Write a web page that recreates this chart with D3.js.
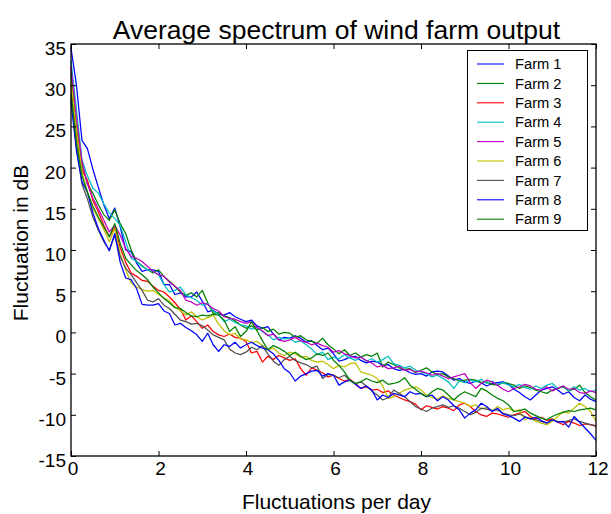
<!DOCTYPE html>
<html>
<head>
<meta charset="utf-8">
<script src="https://cdn.jsdelivr.net/npm/d3@7"></script>
<style>
  html, body { margin: 0; padding: 0; background: #fff; }
  svg { display: block; font-family: "Liberation Sans", Arial, Helvetica, sans-serif; }
</style>
</head>
<body>
<script>
// Average spectrum (dB) of each farm's output, sampled every 1/8 fluctuation per day, 0..12
const samplesPerDay = 8;

const farm1 = [
  34.5, 30.0, 23.3, 22.3, 19.8, 17.6, 15.5, 13.8,
  15.1, 12.8, 10.0, 9.8, 8.4, 7.4, 7.6, 7.6,
  7.4, 5.8, 5.8, 4.6, 4.8, 4.3, 4.3, 4.9,
  3.8, 2.5, 2.7, 2.2, 2.1, 2.4, 1.9, 1.6,
  1.3, 1.5, 0.8, 0.5, 0.7, -0.2, -0.9, -0.6,
  -0.7, -0.4, -0.7, -1.2, -1.0, -1.6, -2.1, -1.9,
  -2.6, -3.5, -3.3, -3.0, -2.9, -3.4, -3.7, -3.5,
  -3.6, -4.0, -3.9, -4.4, -4.6, -4.5, -4.9, -5.1,
  -5.0, -5.3, -4.8, -4.7, -4.8, -5.3, -5.8, -5.6,
  -6.0, -6.2, -5.9, -6.1, -6.5, -6.2, -6.1, -6.0,
  -6.3, -6.9, -7.3, -7.8, -8.2, -7.6, -7.0, -6.8,
  -6.6, -7.0, -7.5, -7.2, -7.9, -8.3, -7.6, -8.1,
  -8.4
];
const farm2 = [
  31.5, 25.0, 20.5, 18.0, 16.9, 15.5, 14.3, 13.6,
  14.9, 13.2, 12.0, 10.0, 8.6, 8.1, 7.6, 7.2,
  7.6, 6.8, 6.2, 5.6, 4.9, 4.5, 4.8, 4.3,
  5.1, 3.6, 2.3, 2.4, 2.0, 1.8, 1.4, 0.9,
  0.5, 0.8, 0.3, 0.6, 0.1, 0.4, -0.2, 0.0,
  -0.1, -0.6, -0.4, -0.9, -1.1, -1.3, -0.7, -1.5,
  -2.0, -2.6, -2.1, -2.8, -2.5, -3.0, -2.7, -2.9,
  -2.5, -4.2, -3.6, -3.9, -4.3, -4.5, -4.4, -4.9,
  -4.6, -4.3, -4.8, -5.1, -5.0, -5.4, -5.6, -5.9,
  -5.8, -5.7, -5.8, -6.1, -6.0, -6.3, -6.4, -6.1,
  -6.2, -6.4, -6.8, -6.5, -6.7, -7.0, -7.2, -7.4,
  -7.0, -6.8, -6.6, -7.1, -6.9, -6.4, -7.3, -7.8,
  -8.2
];
const farm3 = [
  30.0, 24.0, 19.7, 18.5, 16.0, 14.6, 13.0, 11.6,
  12.8, 10.3, 8.5, 7.2, 6.8, 6.3, 6.2, 5.6,
  5.1, 4.9, 4.3, 3.6, 2.8, 1.5, 2.0, 1.3,
  0.5, 0.9, 0.1, -0.3, -0.5, -0.2, -0.6, -0.7,
  -1.1, -2.5, -2.3, -3.6, -2.9, -3.3, -2.8, -3.1,
  -3.4, -3.2, -4.4, -5.2, -4.3, -4.6, -4.9, -5.4,
  -5.2, -5.6, -5.9, -5.7, -6.2, -6.8, -6.6, -7.0,
  -6.9, -7.3, -7.1, -7.6, -7.9, -8.2, -8.4, -8.7,
  -9.4, -8.9, -9.1, -9.3, -9.0, -9.2, -9.5, -8.8,
  -8.6, -9.0, -9.6, -10.0, -10.2, -9.8, -9.9, -10.1,
  -10.3, -10.0, -9.8, -9.6, -10.2, -10.5, -10.3, -10.7,
  -10.5, -10.9, -11.2, -10.8, -11.0, -11.3, -11.1, -11.2,
  -11.4
];
const farm4 = [
  33.0, 27.0, 21.0, 19.0, 17.5, 16.9, 15.6, 14.5,
  13.8, 13.0, 11.0, 9.0, 8.6, 8.0, 7.6, 7.4,
  7.0, 5.8, 4.9, 5.1, 5.5, 4.6, 4.2, 3.9,
  3.3, 3.5, 2.6, 2.2, 1.3, 1.6, 1.2, 0.9,
  0.8, 0.4, 0.6, 0.1, -0.3, -0.9, -0.6, -0.8,
  -0.7, -1.2, -1.0, -1.5, -2.0, -2.7, -2.4, -3.3,
  -3.0, -3.2, -2.7, -3.1, -3.4, -3.0, -3.5, -3.2,
  -3.6, -3.3, -2.9, -3.8, -4.0, -4.3, -4.1, -4.6,
  -4.8, -5.0, -5.4, -5.2, -5.6, -6.0, -6.8, -5.9,
  -6.1, -5.8, -6.0, -5.7, -6.2, -5.9, -6.3, -6.1,
  -6.4, -6.6, -6.3, -6.7, -6.9, -6.5, -6.8, -6.4,
  -6.2, -6.8, -6.5, -7.1, -6.6, -7.0, -6.8, -7.2,
  -7.0
];
const farm5 = [
  32.3, 26.0, 20.8, 18.0, 16.3, 15.0, 13.6, 12.2,
  13.0, 11.8, 10.2, 9.2, 9.0, 8.6, 8.0, 7.4,
  7.0, 6.8, 6.1, 5.6, 5.1, 3.9, 3.7, 3.3,
  3.6, 3.4, 2.9, 2.6, 1.9, 1.7, 1.6, 1.3,
  1.1, 1.3, 0.6, 0.2, -0.4, -0.2, -0.9, -1.1,
  -0.9, -0.6, -1.0, -1.2, -1.5, -1.3, -1.6, -1.8,
  -2.4, -2.2, -2.6, -2.8, -3.1, -3.0, -3.4, -3.7,
  -4.2, -4.0, -4.4, -4.3, -4.1, -4.6, -4.5, -4.8,
  -4.7, -4.9, -5.2, -5.0, -5.3, -5.6, -5.4, -5.2,
  -5.0, -6.1, -6.8, -6.2, -5.8, -6.0, -6.4, -6.9,
  -7.2, -6.8, -6.6, -6.3, -6.5, -6.9, -7.0, -6.6,
  -7.1, -6.8, -6.5, -6.9, -6.8, -7.3, -7.4, -7.1,
  -7.3
];
const farm6 = [
  30.5, 24.5, 19.5, 17.0, 15.0, 13.8, 12.5, 11.0,
  12.6, 9.5, 7.6, 6.0, 5.5, 5.2, 5.0, 5.1,
  4.6, 4.2, 3.8, 3.1, 2.6, 2.1, 2.5, 1.9,
  1.5, 1.8, 2.1, 1.0, 0.2, -0.3, -0.1, -0.8,
  -0.9, -1.2, -1.1, -1.6, -2.1, -1.9, -2.5, -2.8,
  -2.4, -2.6, -3.0, -2.9, -3.4, -3.6, -3.5, -3.9,
  -4.4, -4.0, -4.2, -3.8, -3.7, -4.8, -5.0, -5.2,
  -5.6, -6.5, -8.0, -7.8, -7.4, -7.0, -6.8, -6.6,
  -7.0, -7.6, -7.9, -8.1, -7.7, -8.0, -8.2, -8.4,
  -8.6, -9.0, -8.8, -9.3, -9.1, -9.5, -9.0, -9.4,
  -9.2, -9.6, -9.4, -10.6, -10.3, -10.8, -11.0, -11.2,
  -10.8, -10.2, -9.6, -9.8, -9.2, -8.6, -9.0, -9.6,
  -10.8
];
const farm7 = [
  28.5, 22.5, 18.0, 16.2, 14.0, 12.4, 11.0, 10.0,
  11.8, 9.2, 7.8, 7.0, 6.0, 5.1, 3.9, 3.7,
  4.1, 3.3, 2.9, 2.2, 1.5, 1.3, 1.0, 1.1,
  0.8, 0.3, -0.3, -0.6, -0.9, -2.0, -2.5, -2.7,
  -2.4, -1.8, -2.1, -1.6, -2.6, -3.5, -4.0, -3.3,
  -2.9, -3.4, -3.7, -3.9, -4.3, -4.1, -5.6, -5.1,
  -5.2, -5.5, -5.2, -5.8, -6.2, -6.0, -6.5, -7.1,
  -7.6, -8.2, -7.9, -7.0, -7.4, -7.8, -8.4, -9.0,
  -9.3, -9.6, -9.2, -9.0, -8.8, -9.1, -8.9, -9.2,
  -9.6, -10.0, -9.7, -9.2, -9.3, -9.5, -9.4, -9.8,
  -10.0, -10.1, -9.9, -10.2, -10.5, -10.6, -10.8, -11.0,
  -10.6, -10.8, -10.9, -10.7, -10.5, -10.8, -11.0, -11.2,
  -11.3
];
const farm8 = [
  28.0, 22.0, 18.3, 17.0, 14.5, 12.6, 11.2, 9.9,
  12.0, 8.5, 6.6, 6.4, 5.3, 3.4, 3.3, 3.3,
  3.5, 2.6, 2.3, 0.9, 1.1, 0.6, 0.2, -0.3,
  -1.1, -0.1, -1.5, -2.3, -1.5, -1.7, -1.2, -1.9,
  -1.5, -1.2, -1.6, -1.9, -2.1, -2.6, -3.4, -4.4,
  -4.9, -5.9, -5.3, -5.0, -4.7, -4.6, -5.3, -5.0,
  -5.2, -6.4, -6.0, -5.8, -6.3, -6.8, -6.5, -7.0,
  -8.2, -7.6, -7.9, -7.4, -7.6, -7.8, -7.2, -7.5,
  -7.4, -7.8, -7.6, -8.3, -7.8, -8.2, -8.9, -9.4,
  -10.4, -9.8, -9.4, -8.6, -9.0, -9.6, -9.2, -9.9,
  -10.1, -10.4, -10.8, -10.3, -10.5, -10.3, -10.7, -11.0,
  -10.6, -10.9, -10.8, -11.5, -10.2, -10.9, -11.6, -12.3,
  -13.1
];
const farm9 = [
  29.0, 23.0, 19.0, 17.0, 15.3, 14.0, 12.8, 11.6,
  13.2, 10.8, 9.0, 8.2, 7.5, 7.0, 6.4, 5.5,
  4.8, 4.1, 3.6, 3.0, 2.9, 2.4, 2.0, 1.9,
  2.1, 2.0, 2.2, 2.1, 1.5, 0.1, 0.7, -0.5,
  0.1, 1.3, 0.2, -1.0, -2.1, -1.6, -1.9, -2.3,
  -2.8, -2.4, -2.9, -3.3, -3.1, -2.6, -2.8, -2.5,
  -3.4, -4.0, -4.8, -5.8, -6.2, -6.0, -5.6, -5.9,
  -6.1, -5.8, -6.3, -6.2, -6.0, -5.5, -6.4, -6.9,
  -7.4, -7.8, -7.2, -6.8, -7.0, -7.6, -8.2, -7.6,
  -7.2, -7.5, -7.8, -6.8, -7.1, -7.6, -8.0, -8.3,
  -8.8, -9.6, -9.5, -9.3, -9.8, -10.1, -10.4, -10.6,
  -10.2, -9.9, -9.7, -9.5, -9.6, -9.4, -9.3, -9.2,
  -9.4
];

const farmNames = ["Farm 1", "Farm 2", "Farm 3", "Farm 4", "Farm 5", "Farm 6", "Farm 7", "Farm 8", "Farm 9"];
const farmSeries = [farm1, farm2, farm3, farm4, farm5, farm6, farm7, farm8, farm9];
const farmColors = ["#0000ff", "#008000", "#ff0000", "#00bfbf", "#bf00bf", "#bfbf00", "#505050", "#0000ff", "#008000"];

const xTicks = [0, 2, 4, 6, 8, 10, 12];
const yTicks = [-15, -10, -5, 0, 5, 10, 15, 20, 25, 30, 35];

const W = 611, H = 514;
const box = { left: 71, right: 596, top: 44, bottom: 456 };

const svg = d3.select("body").append("svg").attr("width", W).attr("height", H);

const x = d3.scaleLinear().domain([0, 12]).range([box.left, box.right]);
const y = d3.scaleLinear().domain([-15, 35]).range([box.bottom, box.top]);

// Spectrum curves
const line = d3.line()
  .x((d, i) => x(i / samplesPerDay))
  .y(d => y(d));

svg.append("g")
  .selectAll("path")
  .data(farmSeries)
  .join("path")
  .attr("d", line)
  .attr("fill", "none")
  .attr("stroke", (d, i) => farmColors[i])
  .attr("stroke-width", 1.25)
  .attr("stroke-linejoin", "round");

// Axes: inward ticks on all four sides, labels on bottom and left (plain hyphen minus)
const tickLen = 5;
const fontTick = "19px";
const plain = d => String(d);

const gx = svg.append("g").attr("transform", `translate(0,${box.bottom})`)
  .call(d3.axisBottom(x).tickValues(xTicks).tickFormat(plain).tickSizeInner(-tickLen).tickSizeOuter(0).tickPadding(6));
gx.selectAll("text").attr("font-size", fontTick).attr("fill", "#000").attr("dx", "1.5");

const gxt = svg.append("g").attr("transform", `translate(0,${box.top})`)
  .call(d3.axisTop(x).tickValues(xTicks).tickSizeInner(-tickLen).tickSizeOuter(0).tickFormat(""));

const gy = svg.append("g").attr("transform", `translate(${box.left},0)`)
  .call(d3.axisLeft(y).tickValues(yTicks).tickFormat(plain).tickSizeInner(-tickLen).tickSizeOuter(0).tickPadding(5));
gy.selectAll("text").attr("font-size", fontTick).attr("fill", "#000").attr("dy", "0.55em");

const gyr = svg.append("g").attr("transform", `translate(${box.right},0)`)
  .call(d3.axisRight(y).tickValues(yTicks).tickSizeInner(-tickLen).tickSizeOuter(0).tickFormat(""));

[gx, gxt, gy, gyr].forEach(g => {
  g.select(".domain").remove();
  g.selectAll(".tick line").attr("stroke", "#000").attr("stroke-width", 1);
});

svg.append("rect")
  .attr("x", box.left).attr("y", box.top)
  .attr("width", box.right - box.left).attr("height", box.bottom - box.top)
  .attr("fill", "none").attr("stroke", "#000").attr("stroke-width", 1.3);

// Title and axis labels
svg.append("text")
  .attr("x", (box.left + box.right) / 2 + 3).attr("y", 39)
  .attr("text-anchor", "middle").attr("font-size", "26.5px")
  .text("Average spectrum of wind farm output");

svg.append("text")
  .attr("x", (box.left + box.right) / 2 + 3).attr("y", 509)
  .attr("text-anchor", "middle").attr("font-size", "21px")
  .text("Fluctuations per day");

svg.append("text")
  .attr("transform", "translate(28,243) rotate(-90)")
  .attr("text-anchor", "middle").attr("font-size", "21px")
  .text("Fluctuation in dB");

// Legend
const leg = { x: 467.5, y: 50.5, w: 120, h: 180, row0: 64, rowStep: 19.4 };
const lg = svg.append("g");
lg.append("rect")
  .attr("x", leg.x).attr("y", leg.y).attr("width", leg.w).attr("height", leg.h)
  .attr("fill", "#fff").attr("stroke", "#000").attr("stroke-width", 1);

const rows = lg.selectAll("g.row").data(farmNames).join("g")
  .attr("class", "row")
  .attr("transform", (d, i) => `translate(0,${leg.row0 + i * leg.rowStep})`);
rows.append("line")
  .attr("x1", 477).attr("x2", 504).attr("y1", 0).attr("y2", 0)
  .attr("stroke", (d, i) => farmColors[i]).attr("stroke-width", 1.1);
rows.append("text")
  .attr("x", 515).attr("y", 0).attr("dy", "0.36em")
  .attr("font-size", "14.7px")
  .text(d => d);
</script>
</body>
</html>
